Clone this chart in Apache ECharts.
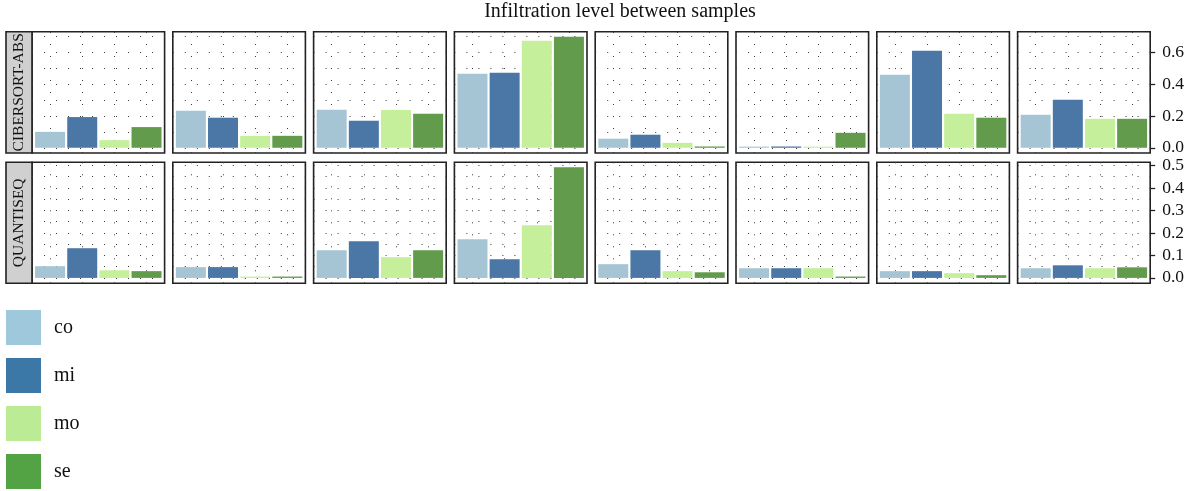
<!DOCTYPE html>
<html>
<head>
<meta charset="utf-8">
<script src="https://cdn.jsdelivr.net/npm/echarts@6/dist/echarts.min.js"></script>
<style>
  html, body { margin: 0; padding: 0; background: #fff; }
  #chart { width: 1188px; height: 491px; }
</style>
</head>
<body>
<div id="chart"></div>
<script>
// Infiltration levels per cell type, one panel per cell type, one row per method
const chartTitle = 'Infiltration level between samples';
const methods = ['CIBERSORT-ABS', 'QUANTISEQ'];
const groups = ['co', 'mi', 'mo', 'se'];

// values[panel][group]
const cibersortAbs = [
  [0.100, 0.193, 0.048, 0.130],
  [0.233, 0.189, 0.075, 0.075],
  [0.239, 0.170, 0.237, 0.214],
  [0.465, 0.472, 0.673, 0.698],
  [0.057, 0.082, 0.031, 0.008],
  [0.007, 0.008, 0.007, 0.094],
  [0.459, 0.610, 0.214, 0.189],
  [0.208, 0.302, 0.182, 0.182]
];
const quantiseq = [
  [0.052, 0.132, 0.034, 0.030],
  [0.048, 0.048, 0.006, 0.006],
  [0.123, 0.163, 0.092, 0.123],
  [0.172, 0.083, 0.234, 0.492],
  [0.061, 0.123, 0.030, 0.025],
  [0.043, 0.043, 0.043, 0.006],
  [0.030, 0.030, 0.021, 0.012],
  [0.043, 0.056, 0.043, 0.047]
];

const cibersortTicks = [0, 0.2, 0.4, 0.6];
const quantiseqTicks = [0, 0.1, 0.2, 0.3, 0.4, 0.5];
const cibersortGuides = [0, 0.1, 0.2, 0.3, 0.4, 0.5, 0.6, 0.7];
const quantiseqGuides = [0, 0.05, 0.1, 0.15, 0.2, 0.25, 0.3, 0.35, 0.4, 0.45, 0.5];

const rowValues = [cibersortAbs, quantiseq];
const rowTicks = [cibersortTicks, quantiseqTicks];
const rowGuides = [cibersortGuides, quantiseqGuides];

// styling
const FONT = '"Liberation Serif", "DejaVu Serif", serif';
const barColors = ['#a5c5d5', '#4a77a5', '#c5ef9b', '#629b4b'];
const legendColors = ['#a0c8dc', '#3b78a7', '#bbec95', '#53a244'];
const panelLeft0 = 32, panelStep = 140.8, panelWidth = 132.6;
const rowTop = [31.7, 162.3], rowHeight = [121.3, 121];
const yRange = [[-0.033, 0.73], [-0.024, 0.514]];
const nPanels = cibersortAbs.length;

const grids = [], xAxes = [], yAxes = [], series = [];
const dotted = { color: '#3a3a3a', width: 1, type: [1, 11] };

methods.forEach((m, r) => {
  for (let p = 0; p < nPanels; p++) {
    const g = grids.length;
    grids.push({
      left: panelLeft0 + p * panelStep, top: rowTop[r],
      width: panelWidth, height: rowHeight[r],
      show: true, borderColor: '#222', borderWidth: 1.6,
      backgroundColor: 'transparent'
    });
    xAxes.push({
      type: 'value', gridIndex: g, min: 0.4375, max: 4.5625, show: false
    });
    const last = p === nPanels - 1;
    yAxes.push({
      type: 'value', gridIndex: g, min: yRange[r][0], max: yRange[r][1],
      position: 'right', show: last,
      axisLine: { show: false },
      splitLine: { show: false },
      axisTick: { show: true, length: 5, customValues: rowTicks[r],
                  lineStyle: { color: '#222', width: 1.3 } },
      axisLabel: { show: true, customValues: rowTicks[r], margin: 12,
                   fontSize: 17.5, fontFamily: FONT, color: '#111',
                   formatter: v => v.toFixed(1) }
    });
    groups.forEach((name, k) => {
      const s = {
        type: 'bar', name, xAxisIndex: g, yAxisIndex: g,
        data: [[k + 1, rowValues[r][p][k]]],
        barWidth: 30, barGap: '-100%', z: 3, silent: true,
        itemStyle: { color: barColors[k] }
      };
      if (k === 0) {
        s.markLine = {
          silent: true, symbol: 'none', z: 1, animation: false,
          label: { show: false },
          lineStyle: dotted,
          emphasis: { disabled: true },
          data: rowGuides[r].map(v => ({ yAxis: v }))
            .concat(groups.map((_, i) => ({ xAxis: i + 1 })))
        };
      }
      series.push(s);
    });
  }
});

const graphic = [{
  type: 'text', x: 620, y: 12,
  style: { text: chartTitle, fontSize: 20, fontFamily: FONT, fill: '#111',
           align: 'center', verticalAlign: 'middle',
           textAlign: 'center', textVerticalAlign: 'middle' }
}];
methods.forEach((m, r) => {
  graphic.push({
    type: 'rect',
    shape: { x: 6, y: rowTop[r], width: 26, height: rowHeight[r] },
    style: { fill: '#d0d0d0', stroke: '#222', lineWidth: 1.6 }
  });
  graphic.push({
    type: 'text', x: 19, y: rowTop[r] + rowHeight[r] / 2, rotation: Math.PI / 2,
    style: { text: m, fontSize: 15.5, fontFamily: FONT, fill: '#111',
             align: 'center', verticalAlign: 'middle',
             textAlign: 'center', textVerticalAlign: 'middle' }
  });
});

const chart = echarts.init(document.getElementById('chart'), null, { renderer: 'canvas' });
chart.setOption({
  animation: false,
  backgroundColor: '#fff',
  grid: grids,
  xAxis: xAxes,
  yAxis: yAxes,
  series,
  graphic,
  legend: {
    orient: 'vertical', left: 6, top: 310, padding: 0,
    itemWidth: 35, itemHeight: 35, itemGap: 13, icon: 'rect',
    selectedMode: false,
    data: groups.map((name, i) => ({ name, itemStyle: { color: legendColors[i] } })),
    textStyle: { fontSize: 20, fontFamily: FONT, color: '#111', padding: [0, 0, 0, 8] }
  }
});
</script>
</body>
</html>
